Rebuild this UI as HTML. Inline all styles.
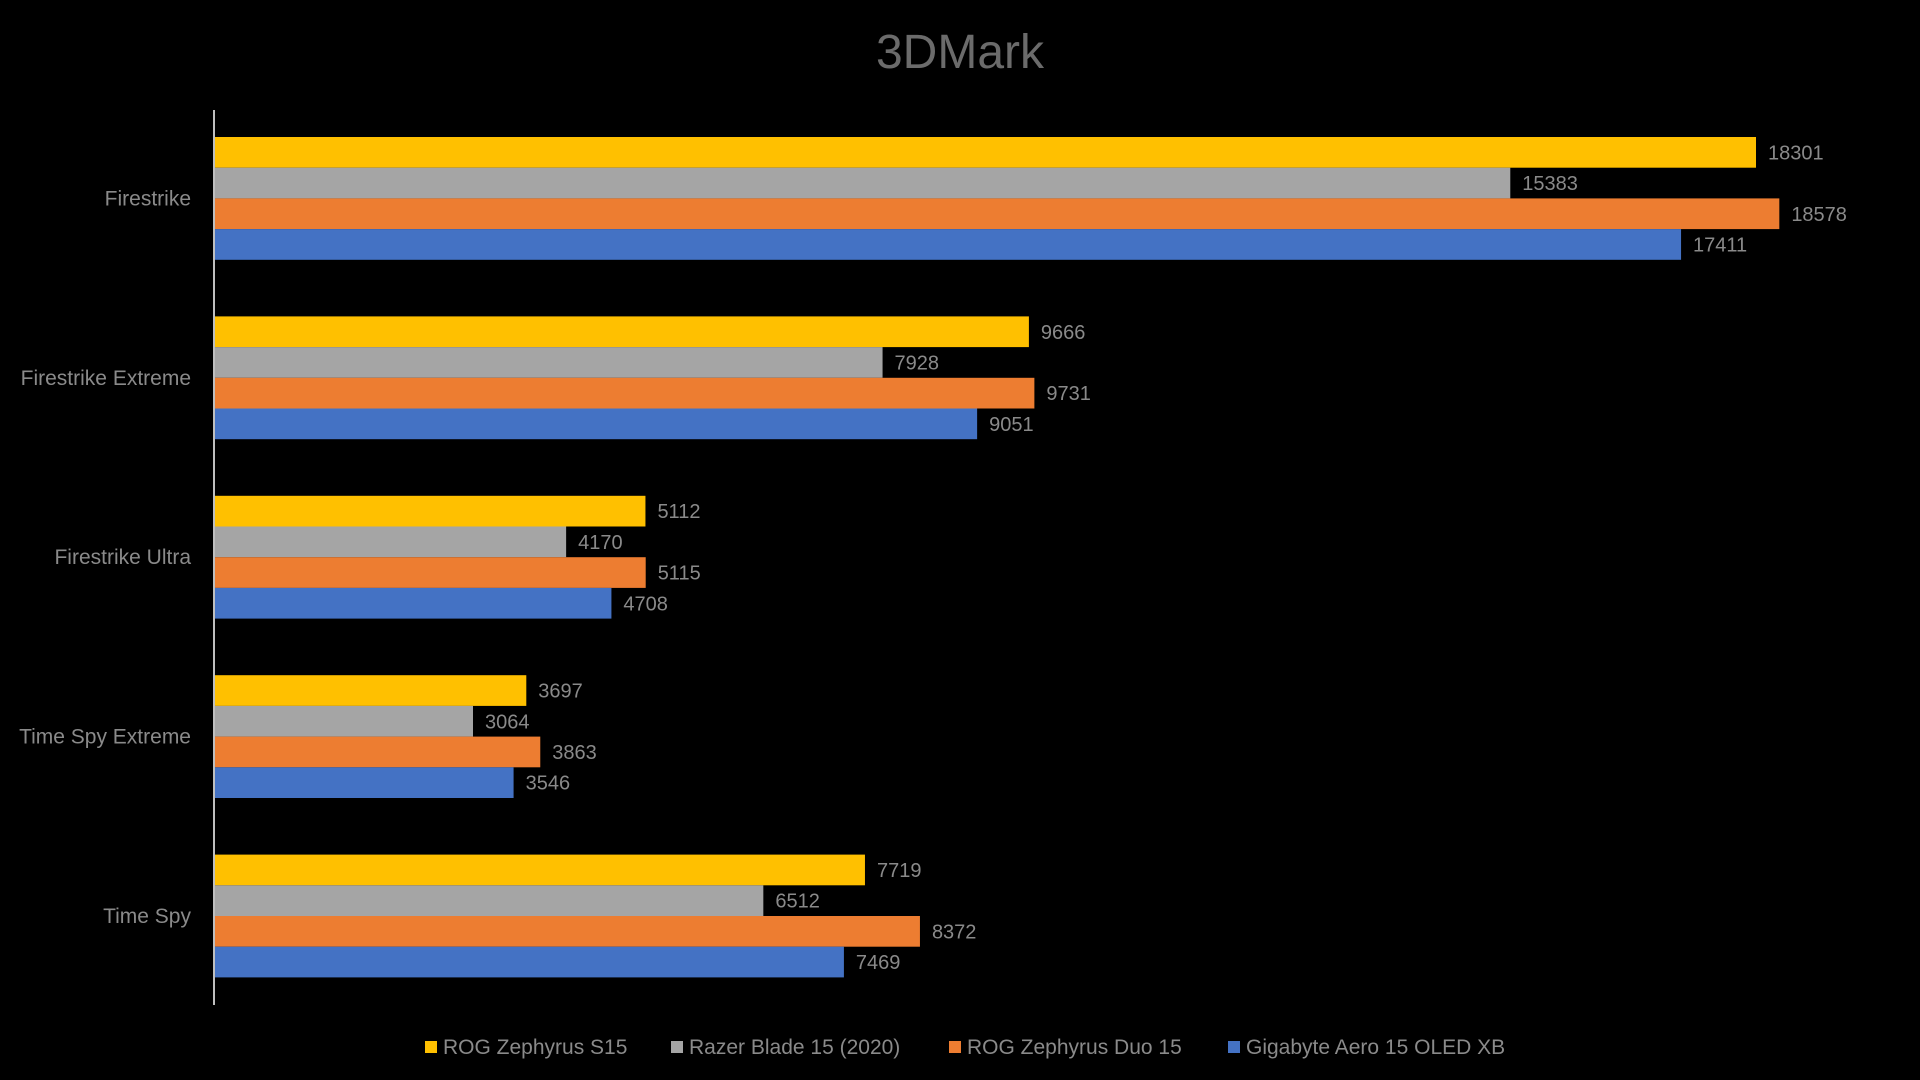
<!DOCTYPE html>
<html><head><meta charset="utf-8"><style>
html,body{margin:0;padding:0;background:#000;width:1920px;height:1080px;overflow:hidden}
svg text{font-family:"Liberation Sans",sans-serif}
</style></head><body>
<svg id="chart" width="1920" height="1080">
<text x="960" y="68" text-anchor="middle" font-size="48" fill="#6b6b6b">3DMark</text>
<line x1="214" y1="110" x2="214" y2="1005" stroke="#bfbfbf" stroke-width="2"/>
<g id="bars"></g>
<g id="legend"></g>
</svg>
<script>
const categories = ["Firestrike","Firestrike Extreme","Firestrike Ultra","Time Spy Extreme","Time Spy"];
const seriesNames = ["ROG Zephyrus S15","Razer Blade 15 (2020)","ROG Zephyrus Duo 15","Gigabyte Aero 15 OLED XB"];
const s1 = [18301,9666,5112,3697,7719];
const s2 = [15383,7928,4170,3064,6512];
const s3 = [18578,9731,5115,3863,8372];
const s4 = [17411,9051,4708,3546,7469];
const series=[s1,s2,s3,s4];
const colors=["#ffc000","#a5a5a5","#ed7d31","#4472c4"];
const NS="http://www.w3.org/2000/svg";
const x0=215, k=(1755-214)/18301;
const xs=v=>x0+v*k;
const groupTop=i=>137+i*179.4;
const bh=30.7;
const g=document.getElementById('bars');
categories.forEach((c,i)=>{
  const t=document.createElementNS(NS,'text');
  
  
  t.setAttribute('x',191);t.setAttribute('y',groupTop(i)+2*bh+7);
  t.setAttribute('text-anchor','end');t.setAttribute('font-size','21');t.setAttribute('fill','#8a8a8a');
  t.textContent=c;g.appendChild(t);
  series.forEach((s,j)=>{
    const r=document.createElementNS(NS,'rect');
    
    
    const y=groupTop(i)+j*bh;
    r.setAttribute('x',x0);r.setAttribute('y',y);
    r.setAttribute('width',xs(s[i])-x0);r.setAttribute('height',bh);
    r.setAttribute('fill',colors[j]);g.appendChild(r);
    const l=document.createElementNS(NS,'text');
    
    
    l.setAttribute('x',xs(s[i])+12);l.setAttribute('y',y+bh/2+7);
    l.setAttribute('font-size','20');l.setAttribute('fill','#8a8a8a');
    l.textContent=s[i];g.appendChild(l);
  });
});
const lg=document.getElementById('legend');
const lx=[425,671,949,1228];
seriesNames.forEach((n,j)=>{
  const r=document.createElementNS(NS,'rect');
  
  
  r.setAttribute('x',lx[j]);r.setAttribute('y',1041);r.setAttribute('width',12);r.setAttribute('height',12);
  r.setAttribute('fill',colors[j]);lg.appendChild(r);
  const t=document.createElementNS(NS,'text');
  
  
  t.setAttribute('x',lx[j]+18);t.setAttribute('y',1054);t.setAttribute('font-size','21');t.setAttribute('fill','#8a8a8a');
  t.textContent=n;lg.appendChild(t);
});
</script>
</body></html>
